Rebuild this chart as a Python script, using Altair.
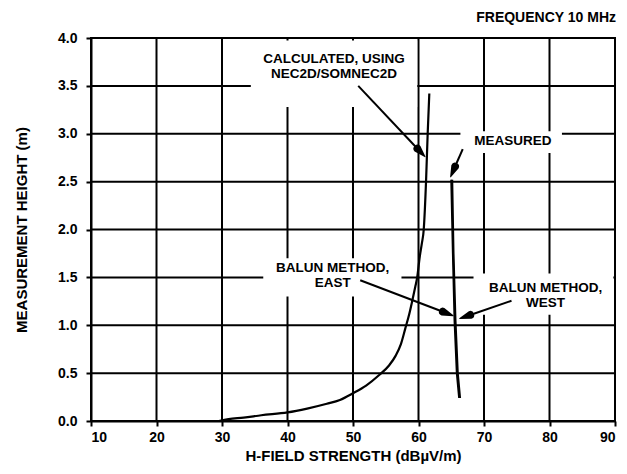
import math
import altair as alt
import pandas as pd

# ---------------- data ----------------
x_ticks = [10, 20, 30, 40, 50, 60, 70, 80, 90]
y_ticks = [0.0, 0.5, 1.0, 1.5, 2.0, 2.5, 3.0, 3.5, 4.0]
x_grid = [20, 30, 40, 50, 60, 70, 80]
y_grid = [0.5, 1.0, 1.5, 2.0, 2.5, 3.0, 3.5]

# calculated (NEC2D/SOMNEC2D)
calc_x = [29.5, 31.0, 33.3, 36.0, 40.0, 43.0, 46.0, 48.0, 50.0, 52.0, 54.0, 55.5,
          56.5, 57.3, 58.0, 58.6, 59.0, 59.5, 59.8, 60.2, 60.5, 60.8, 61.15, 61.4, 61.65]
calc_h = [0.0, 0.02, 0.035, 0.06, 0.09, 0.13, 0.18, 0.22, 0.29, 0.37, 0.48, 0.58,
          0.68, 0.80, 0.97, 1.12, 1.24, 1.40, 1.50, 1.72, 1.85, 2.0, 2.5, 3.0, 3.42]

# measured, balun method east / west
east_x = [65.0, 65.25, 65.5, 65.85, 66.2]
east_h = [2.52, 1.75, 1.05, 0.50, 0.24]
west_x = [65.15, 65.35, 65.65, 66.0, 66.35]
west_h = [2.52, 1.75, 1.05, 0.50, 0.24]

# annotation texts (one entry per label, lines split on "\n"; position = first line)
label_text = ["CALCULATED, USING\nNEC2D/SOMNEC2D", "MEASURED",
              "BALUN METHOD,\nEAST", "BALUN METHOD,\nWEST"]
label_x = [47.1, 74.4, 46.9, 79.4]
label_h = [3.778, 2.92, 1.595, 1.386]

# white boxes behind the annotation texts
box_x1 = [34.4, 66.4, 36.3, 68.4]
box_x2 = [59.8, 81.9, 57.4, 89.75]
box_h1 = [3.28, 2.80, 1.30, 1.11]
box_h2 = [3.975, 3.025, 1.70, 1.54]

# arrows: start -> tip
arr_x1 = [50.8, 66.75, 51.1, 74.2]
arr_h1 = [3.50, 2.84, 1.47, 1.256]
arr_x2 = [61.0, 64.9, 65.3, 66.3]
arr_h2 = [2.76, 2.55, 1.10, 1.07]

# ---------------- chart ----------------
W, H = 524, 383
FONT = "Liberation Sans"
HEAD_LEN, HEAD_W = 11.0, 8.0
xs = alt.Scale(domain=[10, 90], nice=False, zero=False)
ys = alt.Scale(domain=[0, 4], nice=False, zero=False)
kx = W / 80.0
ky = H / 4.0

# arrowhead base points (a fixed pixel length back from each tip)
base_x, base_h = [], []
for a, b, c, d in zip(arr_x1, arr_h1, arr_x2, arr_h2):
    dxp, dyp = (c - a) * kx, (d - b) * ky
    ln = math.hypot(dxp, dyp)
    base_x.append(c - HEAD_LEN * dxp / ln / kx)
    base_h.append(d - HEAD_LEN * dyp / ln / ky)

ax_x = alt.Axis(values=x_ticks, format="d", title="H-FIELD STRENGTH (dBµV/m)",
                grid=False, tickSize=5, tickWidth=2, tickColor="black",
                domainColor="black", domainWidth=2, labelPadding=4,
                labelFont=FONT, labelFontSize=14, labelFontWeight="bold", labelColor="black",
                titleFont=FONT, titleFontSize=15, titleFontWeight="bold",
                titleColor="black", titlePadding=4)
ax_y = alt.Axis(values=y_ticks, format=".1f", title="MEASUREMENT HEIGHT (m)",
                grid=False, tickSize=5, tickWidth=2, tickColor="black",
                domainColor="black", domainWidth=2, labelPadding=9,
                labelFont=FONT, labelFontSize=14, labelFontWeight="bold", labelColor="black",
                titleFont=FONT, titleFontSize=15, titleFontWeight="bold",
                titleColor="black", titlePadding=28)


def X(f):
    return alt.X(f, scale=xs, axis=ax_x)


def Y(f):
    return alt.Y(f, scale=ys, axis=ax_y)


grid_v = alt.Chart(pd.DataFrame({"x": x_grid})).mark_rule(
    color="black", strokeWidth=2).encode(x=X("x:Q"))

grid_h = alt.Chart(pd.DataFrame({"h": y_grid})).mark_rule(
    color="black", strokeWidth=2).encode(y=Y("h:Q"))

boxes = alt.Chart(pd.DataFrame({"x1": box_x1, "x2": box_x2, "h1": box_h1, "h2": box_h2})
                  ).mark_rect(color="white").encode(
    x=X("x1:Q"), x2="x2:Q", y=Y("h1:Q"), y2="h2:Q")

calc = alt.Chart(pd.DataFrame({"x": calc_x, "h": calc_h})).mark_line(
    color="black", strokeWidth=2.2, interpolate="monotone").encode(
    x=X("x:Q"), y=Y("h:Q"))

meas_df = pd.DataFrame({
    "x": east_x + west_x, "h": east_h + west_h,
    "s": ["east"] * len(east_x) + ["west"] * len(west_x),
    "o": list(range(len(east_x))) + list(range(len(west_x)))})
meas = alt.Chart(meas_df).mark_line(color="black", strokeWidth=2).encode(
    x=X("x:Q"), y=Y("h:Q"), detail="s:N", order="o:Q")

arr_df = pd.DataFrame({"x1": arr_x1, "h1": arr_h1, "bx": base_x, "bh": base_h})
arr_lines = alt.Chart(arr_df).mark_rule(color="black", strokeWidth=2).encode(
    x=X("x1:Q"), x2="bx:Q", y=Y("h1:Q"), y2="bh:Q")

n = len(arr_x2)
head_df = pd.DataFrame({
    "id": list(range(n)) * 2,
    "x": base_x + arr_x2,
    "h": base_h + arr_h2,
    "w": [HEAD_W] * n + [0.0] * n,
    "o": [0] * n + [1] * n})
arr_heads = alt.Chart(head_df).mark_trail(color="black").encode(
    x=X("x:Q"), y=Y("h:Q"), detail="id:N", order="o:Q",
    size=alt.Size("w:Q", scale=None, legend=None))

texts = alt.Chart(pd.DataFrame({"t": label_text, "x": label_x, "h": label_h})).mark_text(
    font=FONT, fontSize=13.5, fontWeight="bold", color="black", align="center",
    baseline="middle", lineBreak="\n", lineHeight=15).encode(
    x=X("x:Q"), y=Y("h:Q"), text="t:N")

chart = alt.layer(grid_v, grid_h, boxes, calc, meas, arr_lines, arr_heads, texts).properties(
    width=W, height=H,
    title=alt.TitleParams(text="FREQUENCY 10 MHz", anchor="end", font=FONT, fontSize=14,
                          fontWeight="bold", color="black", offset=6),
    autosize=alt.AutoSizeParams(type="none"),
    padding={"left": 83, "top": 30, "right": 4, "bottom": 45},
).configure_view(stroke="black", strokeWidth=2)

chart.save("out.html", embed_options={"renderer": "svg", "actions": False})
